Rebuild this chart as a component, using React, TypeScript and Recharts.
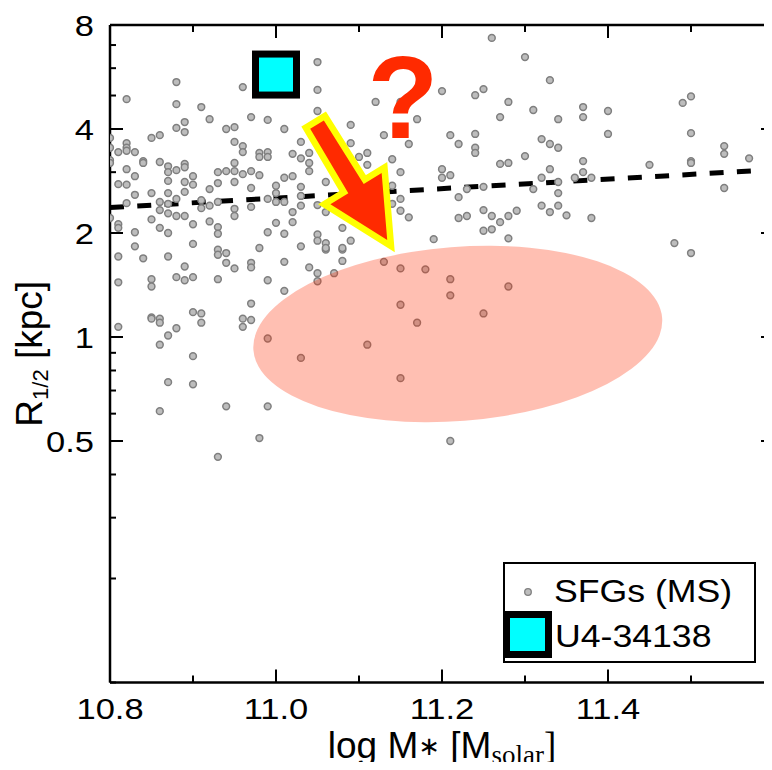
import React from 'react';
import { ComposedChart, Scatter, Line, XAxis, YAxis, ReferenceDot, Legend } from 'recharts';

const SFG_NAME = 'SFGs (MS)';
const TARGET_NAME = 'U4-34138';

// star-forming main-sequence galaxies: log stellar mass and half-light radius (kpc)
const sfgMass = [
  10.88, 10.82, 10.88, 10.91, 10.96, 10.92, 10.97, 10.88, 10.89, 10.89,
  10.94, 10.95, 10.85, 10.86, 10.8, 10.82, 10.82, 10.82, 10.81, 10.83,
  10.8, 10.95, 10.96, 10.96, 10.98, 10.98, 10.8, 10.8, 10.84, 10.84,
  10.86, 10.87, 10.87, 10.88, 10.89, 10.89, 10.9, 10.93, 10.94, 10.95,
  10.95, 10.96, 10.97, 10.98, 10.82, 10.83, 10.81, 10.82, 10.83, 10.85,
  10.87, 10.87, 10.88, 10.89, 10.89, 10.9, 10.92, 10.93, 10.93, 10.95,
  10.97, 10.82, 10.86, 10.86, 10.87, 10.87, 10.88, 10.89, 10.91, 10.91,
  10.92, 10.95, 10.95, 10.97, 10.8, 10.81, 10.81, 10.85, 10.86, 10.87,
  10.9, 10.92, 10.93, 10.93, 10.83, 10.83, 10.9, 10.93, 10.93, 10.94,
  10.98, 10.81, 10.84, 10.87,
  10.89, 10.94, 10.95, 10.97, 10.97, 10.81, 10.85, 10.85, 10.88, 10.89,
  10.9, 10.93, 10.97, 10.9, 10.91, 10.91, 10.85, 10.85, 10.86, 10.86,
  10.96, 10.96, 10.97, 10.81, 10.88, 10.87, 10.86, 10.9, 10.87, 10.9,
  10.94, 10.86, 10.98, 10.93,
  11.06, 11.08, 11.01, 11.04, 11.05, 11.07, 11.08, 11.05, 10.99, 11.01,
  11.13, 11.15, 11.18, 11.21, 11.21, 11.15, 11.17, 11.25, 11.28, 10.99,
  11.03, 11.11, 11.15, 10.99, 11.21, 11.5,
  11.05, 11.05, 11.05, 10.99, 11.01, 11.26, 11.2, 11.24, 11.25, 11.12,
  11.15, 11.17, 11.13, 11.16, 11.21, 11.22, 11.24, 11.24, 11.24, 11.27,
  11.28, 11.27, 11.28, 11.03, 11.09, 11.09, 10.99, 10.99, 11.02, 11.03,
  11.04, 11.04, 11.04, 11.1, 11.11, 11.11, 11.14, 11.15, 11.01, 11.02,
  11.06, 11.0, 11.0, 11.03, 11.03, 10.99, 11.0, 11.01, 11.05, 11.06,
  11.02, 11.03, 11.14, 11.14, 11.15, 11.15, 11.16, 11.2, 11.2, 11.21,
  11.22, 11.23, 11.22, 11.23, 11.25, 11.25, 11.26, 11.27, 11.28, 11.25,
  11.26, 11.28, 11.19, 11.0, 11.02, 10.99, 11.01, 11.05, 11.05, 11.06,
  11.06, 11.03, 11.08, 11.08, 11.09,
  11.3, 11.33, 11.31, 11.34, 11.37, 11.37, 11.4, 11.4, 11.49, 11.5,
  11.5, 11.32, 11.33, 11.34, 11.3, 11.37, 11.37, 11.38, 11.36, 11.33,
  11.32, 11.34, 11.31, 11.34, 11.45, 11.5, 11.5, 11.54, 11.54, 11.57,
  11.54, 11.29, 11.32, 11.33, 11.34, 11.35, 11.38, 11.48,
];

const sfgRadius = [
  5.47, 4.88, 4.72, 4.63, 5.29, 4.27, 4.33, 4.03, 4.19, 3.92,
  4.0, 4.05, 3.77, 3.84, 3.77, 3.64, 3.53, 3.46, 3.43, 3.43,
  3.53, 3.67, 3.57, 3.43, 3.41, 3.32, 3.25, 3.19, 3.23, 3.19,
  3.21, 3.12, 3.0, 3.04, 3.17, 3.1, 2.92, 3.0, 3.02, 3.19,
  3.02, 2.96, 3.02, 2.94, 3.06, 2.92, 2.77, 2.76, 2.58, 2.61,
  2.83, 2.61, 2.51, 2.81, 2.63, 2.76, 2.68, 2.79, 2.46, 2.81,
  2.7, 2.44, 2.46, 2.33, 2.43, 2.28, 2.24, 2.24, 2.49, 2.36,
  2.4, 2.35, 2.24, 2.38, 2.21, 2.12, 2.07, 2.19, 2.07, 2.0,
  2.12, 2.16, 2.08, 1.99, 2.01, 1.83, 1.86, 1.79, 1.73, 1.75,
  1.81, 1.71, 1.69, 1.71,
  1.6, 1.64, 1.58, 1.64, 1.59, 1.44, 1.47, 1.4, 1.49, 1.46,
  1.49, 1.47, 1.25, 1.18, 1.17, 1.1, 1.14, 1.13, 1.13, 1.1,
  1.13, 1.07, 1.12, 1.07, 1.06, 1.01, 0.95, 0.88, 0.74, 0.73,
  0.63, 0.61, 0.51, 0.45,
  1.79, 1.79, 1.65, 1.59, 1.53, 1.53, 1.66, 1.45, 1.46, 1.36,
  1.65, 1.58, 1.57, 1.47, 1.32, 1.24, 1.1, 1.17, 1.4, 0.99,
  0.87, 0.95, 0.76, 0.63, 0.5, 1.75,
  6.25, 5.19, 4.51, 4.25, 4.0, 7.34, 5.15, 5.01, 5.22, 4.79,
  4.79, 4.27, 3.84, 3.62, 3.84, 3.62, 3.87, 3.53, 3.41, 4.33,
  4.79, 3.17, 3.19, 3.67, 4.11, 3.64, 3.43, 3.32, 3.39, 3.29,
  3.41, 3.19, 3.02, 3.32, 3.41, 3.15, 3.27, 3.0, 2.89, 2.92,
  2.81, 2.74, 2.61, 2.72, 2.56, 2.51, 2.46, 2.46, 2.41, 2.3,
  2.3, 2.4, 2.74, 2.43, 2.51, 2.32, 2.22, 3.06, 2.89, 2.94,
  2.54, 2.68, 2.21, 2.24, 2.72, 2.33, 2.24, 2.15, 2.24, 2.03,
  2.05, 1.93, 1.92, 2.14, 2.15, 2.01, 1.99, 1.98, 1.9, 1.87,
  1.81, 1.83, 2.07, 1.81, 1.9,
  6.46, 5.54, 4.54, 4.27, 4.63, 4.33, 4.51, 3.87, 4.76, 4.97,
  3.89, 3.74, 3.62, 3.53, 3.34, 3.23, 3.0, 2.89, 2.89, 3.06,
  2.89, 2.81, 2.68, 2.61, 3.15, 3.23, 3.19, 3.57, 3.39, 3.29,
  2.7, 2.32, 2.4, 2.3, 2.4, 2.25, 2.21, 1.87,
];

const targetMass = [11.0];
const targetRadius = [5.75];

// size-mass relation of the main sequence (dashed)
const relationMass = [10.8, 11.6];
const relationRadius = [2.37, 3.05];

// annotations: compact region, arrow tip, question mark
const compactMass = 11.219;
const compactRadius = 1.02;
const arrowTipMass = 11.134;
const arrowTipRadius = 1.91;
const questionMass = 11.153;
const questionRadius = 3.77;

const massTicks = [10.8, 10.9, 11.0, 11.1, 11.2, 11.3, 11.4, 11.5, 11.6];
const massMajor = [10.8, 11.0, 11.2, 11.4, 11.6];
const massLabels = ['10.8', '11.0', '11.2', '11.4'];
const radiusTicks = [0.1, 0.2, 0.3, 0.4, 0.5, 0.6, 0.7, 0.8, 0.9, 1, 2, 3, 4, 5, 6, 7, 8];
const radiusMajor = [0.5, 1, 2, 4, 8];
const radiusLabels = ['0.5', '1', '2', '4', '8'];

const sfgPoints = sfgMass.map((x, i) => ({ x, y: sfgRadius[i] }));
const targetPoints = targetMass.map((x, i) => ({ x, y: targetRadius[i] }));
const relationPoints = relationMass.map((x, i) => ({ x, y: relationRadius[i] }));

const FONT = '"Liberation Sans", Arial, Helvetica, sans-serif';
const SERIF = '"Liberation Serif", "Times New Roman", serif';
const RED = '#ff2a00';
const WIDE = 1.15; // tick and legend lettering is drawn a little wide

const near = (list: number[], v: number) => list.findIndex((t) => Math.abs(t - v) < 1e-6);

function WideText({ x, y, anchor = 'start', size = 30, children }: any) {
  return (
    <g transform={`translate(${x},${y}) scale(${WIDE},1)`}>
      <text x={0} y={0} textAnchor={anchor} fontSize={size} fontFamily={FONT} fill="#000">
        {children}
      </text>
    </g>
  );
}

const renderBottomTick = ({ x, y, payload }: any) => {
  const k = near(massMajor, payload.value);
  return (
    <g>
      <line x1={x} y1={y} x2={x} y2={y - (k >= 0 ? 13 : 7)} stroke="#000" strokeWidth={2} />
      {k >= 0 && massLabels[k] && (
        <WideText x={x} y={y + 36} anchor="middle">
          {massLabels[k]}
        </WideText>
      )}
    </g>
  );
};

const renderTopTick = ({ x, y, payload }: any) => {
  const k = near(massMajor, payload.value);
  return <line x1={x} y1={y} x2={x} y2={y + (k >= 0 ? 13 : 7)} stroke="#000" strokeWidth={2} />;
};

const renderLeftTick = ({ x, y, payload }: any) => {
  const k = near(radiusMajor, payload.value);
  return (
    <g>
      <line x1={x} y1={y} x2={x + (k >= 0 ? 13 : 6)} y2={y} stroke="#000" strokeWidth={2} />
      {k >= 0 && (
        <WideText x={x - 16} y={y + 11} anchor="end">
          {radiusLabels[k]}
        </WideText>
      )}
    </g>
  );
};

const renderRightTick = ({ x, y, payload }: any) => {
  const k = near(radiusMajor, payload.value);
  return <line x1={x} y1={y} x2={x - (k >= 0 ? 13 : 6)} y2={y} stroke="#000" strokeWidth={2} />;
};

const renderXTitle = ({ viewBox }: any) => {
  const cx = viewBox.x + viewBox.width / 2;
  return (
    <text x={cx} y={viewBox.y + 75} textAnchor="middle" fontSize={37} fontFamily={FONT} fill="#000">
      log M
      <tspan fontSize={26} fontFamily="DejaVu Sans" dy={-3}>∗</tspan>
      <tspan dy={3}> [M</tspan>
      <tspan fontFamily={SERIF} fontSize={27} dy={6}>solar</tspan>
      <tspan fontFamily={SERIF} dy={-6}>]</tspan>
    </text>
  );
};

const renderYTitle = ({ viewBox }: any) => {
  const cy = viewBox.y + viewBox.height / 2;
  return (
    <text
      x={0}
      y={0}
      transform={`translate(42,${cy}) rotate(-90)`}
      textAnchor="middle"
      fontSize={37}
      fontFamily={FONT}
      fill="#000"
    >
      R
      <tspan fontSize={22} dy={6}>1/2</tspan>
      <tspan dy={-6}> [kpc]</tspan>
    </text>
  );
};

const renderSfgDot = ({ cx, cy }: any) => (
  <circle cx={cx} cy={cy} r={3.4} fill="#bdbdbd" stroke="#7f7f7f" strokeWidth={1.5} />
);

const renderTarget = ({ cx, cy }: any) => (
  <rect x={cx - 20.5} y={cy - 20.5} width={41} height={41} fill="#00ffff" stroke="#000" strokeWidth={7} />
);

const renderCompact = ({ cx, cy }: any) => (
  <ellipse cx={cx} cy={cy} rx={205} ry={87} transform={`rotate(-4.5 ${cx} ${cy})`} fill={RED} fillOpacity={0.3} />
);

const renderArrow = ({ cx, cy }: any) => {
  // direction from tail to tip, and its normal
  const dx = 0.52;
  const dy = 0.854;
  const nx = 0.854;
  const ny = -0.52;
  const at = (along: number, side: number) =>
    `${cx - dx * along + nx * side},${cy - dy * along + ny * side}`;
  const pts = [at(135, -8), at(135, 8), at(60, 9), at(60, 30), at(0, 0), at(60, -30), at(60, -9)].join(' ');
  return (
    <g>
      <polygon points={pts} fill="#ffff00" stroke="#ffff00" strokeWidth={13} strokeLinejoin="miter" strokeMiterlimit={10} />
      <polygon points={pts} fill={RED} />
    </g>
  );
};

const renderQuestion = ({ cx, cy }: any) => (
  <text x={cx} y={cy} textAnchor="middle" fontSize={116} fontWeight="bold" fontFamily={FONT} fill={RED}>
    ?
  </text>
);

const renderLegend = () => (
  <svg width={253} height={101} style={{ overflow: 'visible', display: 'block' }}>
    <rect x={1} y={1} width={251} height={99} fill="#fff" stroke="#000" strokeWidth={2} />
    <circle cx={25} cy={30} r={3.3} fill="#bdbdbd" stroke="#7f7f7f" strokeWidth={1.3} />
    <WideText x={51} y={40} size={31}>
      {SFG_NAME}
    </WideText>
    <rect x={3.5} y={52.5} width={42} height={40} fill="#00ffff" stroke="#000" strokeWidth={7} />
    <WideText x={52} y={85} size={31}>
      {TARGET_NAME}
    </WideText>
  </svg>
);

export default function App() {
  return (
    <div style={{ margin: -8, width: 772, height: 770, overflow: 'hidden', background: '#fff' }}>
      <ComposedChart width={776} height={770} margin={{ top: 20, right: 0, bottom: 0, left: 0 }}>
        <XAxis
          type="number"
          dataKey="x"
          domain={[10.8, 11.6]}
          allowDataOverflow
          ticks={massTicks}
          interval={0}
          height={87.5}
          tickSize={0}
          tickMargin={0}
          tickLine={false}
          tick={renderBottomTick}
          axisLine={{ stroke: '#000', strokeWidth: 2.5 }}
          label={{ content: renderXTitle }}
        />
        <XAxis
          xAxisId="top"
          orientation="top"
          type="number"
          dataKey="x"
          domain={[10.8, 11.6]}
          allowDataOverflow
          ticks={massTicks}
          interval={0}
          height={5}
          tickSize={0}
          tickMargin={0}
          tickLine={false}
          tick={renderTopTick}
          axisLine={{ stroke: '#000', strokeWidth: 2.5 }}
        />
        <YAxis
          type="number"
          dataKey="y"
          scale="log"
          domain={[0.1, 8]}
          allowDataOverflow
          ticks={radiusTicks}
          interval={0}
          width={110}
          tickSize={0}
          tickMargin={0}
          tickLine={false}
          tick={renderLeftTick}
          axisLine={{ stroke: '#000', strokeWidth: 2.5 }}
          label={{ content: renderYTitle }}
        />
        <YAxis
          yAxisId="right"
          orientation="right"
          type="number"
          dataKey="y"
          scale="log"
          domain={[0.1, 8]}
          allowDataOverflow
          ticks={radiusTicks}
          interval={0}
          width={2}
          tickSize={0}
          tickMargin={0}
          tickLine={false}
          tick={renderRightTick}
          axisLine={{ stroke: '#000', strokeWidth: 2.5 }}
        />
        <Scatter name={SFG_NAME} data={sfgPoints} shape={renderSfgDot} isAnimationActive={false} />
        <ReferenceDot x={compactMass} y={compactRadius} r={0} shape={renderCompact} />
        <Line
          data={relationPoints}
          dataKey="y"
          type="linear"
          stroke="#000"
          strokeWidth={5}
          strokeDasharray="14 13.3"
          dot={false}
          activeDot={false}
          legendType="none"
          isAnimationActive={false}
        />
        <ReferenceDot x={arrowTipMass} y={arrowTipRadius} r={0} shape={renderArrow} />
        <ReferenceDot x={questionMass} y={questionRadius} r={0} shape={renderQuestion} />
        <Scatter name={TARGET_NAME} data={targetPoints} shape={renderTarget} isAnimationActive={false} />
        <Legend
          layout="vertical"
          align="center"
          verticalAlign="middle"
          wrapperStyle={{ left: 503, top: 562, width: 253, height: 101 }}
          content={renderLegend}
        />
      </ComposedChart>
    </div>
  );
}
